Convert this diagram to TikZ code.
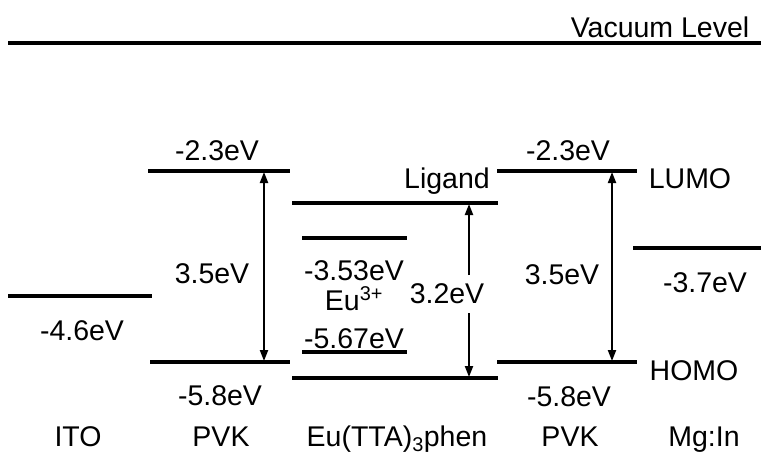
\documentclass[tikz,border=0pt]{standalone}
\usepackage{fontspec}
\setmainfont{Liberation Sans}
\usetikzlibrary{arrows.meta}

\begin{document}
\begin{tikzpicture}[x=1pt,y=-1pt,
    level/.style={line width=3.2pt},
    gap/.style={line width=2pt, {Triangle[length=11pt,width=8pt]}-{Triangle[length=11pt,width=8pt]}},
    halfgap/.style={line width=2pt, -{Triangle[length=11pt,width=8pt]}},
    lbl/.style={anchor=base, inner sep=0pt, font=\fontsize{28.5}{30}\selectfont}]
  \useasboundingbox (0,0) rectangle (761,459);

  % energy levels (end points)
  \coordinate (vacL) at (8,43);    \coordinate (vacR) at (761,43);
  \coordinate (itoL) at (8,296);   \coordinate (itoR) at (152,296);
  \coordinate (pvkaLuL) at (148,171); \coordinate (pvkaLuR) at (290,171);
  \coordinate (pvkaHoL) at (150,362); \coordinate (pvkaHoR) at (290,362);
  \coordinate (ligL) at (292,203); \coordinate (ligR) at (498,203);
  \coordinate (euaL) at (302,238); \coordinate (euaR) at (407,238);
  \coordinate (eubL) at (302,352); \coordinate (eubR) at (407,352);
  \coordinate (euHoL) at (292,378); \coordinate (euHoR) at (498,378);
  \coordinate (pvkbLuL) at (497,171); \coordinate (pvkbLuR) at (637,171);
  \coordinate (pvkbHoL) at (497,362); \coordinate (pvkbHoR) at (637,362);
  \coordinate (mgL) at (633,248);  \coordinate (mgR) at (761,248);

  \foreach \a/\b in {vacL/vacR, itoL/itoR, pvkaLuL/pvkaLuR, pvkaHoL/pvkaHoR,
                     ligL/ligR, euaL/euaR, eubL/eubR, euHoL/euHoR,
                     pvkbLuL/pvkbLuR, pvkbHoL/pvkbHoR, mgL/mgR}
    \draw[level] (\a) -- (\b);

  % band-gap arrows
  \coordinate (gapaTop) at (264,172); \coordinate (gapaBot) at (264,361);
  \draw[gap] (gapaTop) -- (gapaBot);
  \coordinate (gapbTop) at (469,204); \coordinate (gapbBot) at (469,377);
  \coordinate (gapbMidT) at (469,275); \coordinate (gapbMidB) at (469,313);
  \draw[halfgap] (gapbMidT) -- (gapbTop);
  \draw[halfgap] (gapbMidB) -- (gapbBot);
  \coordinate (gapcTop) at (612,172); \coordinate (gapcBot) at (612,361);
  \draw[gap] (gapcTop) -- (gapcBot);

  % labels
  \node[lbl] (tvac) at (660,37) {Vacuum Level};
  \node[lbl] (tito) at (82,340) {-4.6eV};
  \node[lbl] (tpaLu) at (217,160) {-2.3eV};
  \node[lbl] (tpaGap) at (212,283) {3.5eV};
  \node[lbl] (tpaHo) at (220,405) {-5.8eV};
  \node[lbl] (tlig) at (447,188) {Ligand};
  \node[lbl] (teua) at (354,280) {-3.53eV};
  \node[lbl] (teu) at (354,310) {Eu\textsuperscript{3+}};
  \node[lbl] (teub) at (354,348) {-5.67eV};
  \node[lbl] (tgapb) at (447,303) {3.2eV};
  \node[lbl] (tpbLu) at (568,160) {-2.3eV};
  \node[lbl] (tpbGap) at (562,284) {3.5eV};
  \node[lbl] (tpbHo) at (569,406) {-5.8eV};
  \node[lbl] (tlumo) at (690,188) {LUMO};
  \node[lbl] (thomo) at (694,380) {HOMO};
  \node[lbl] (tmg) at (705,292) {-3.7eV};

  % layer names
  \node[lbl] (nito) at (78,446) {ITO};
  \node[lbl] (npvka) at (221,446) {PVK};
  \node[lbl] (neu) at (397,446) {Eu(TTA)\textsubscript{3}phen};
  \node[lbl] (npvkb) at (570,446) {PVK};
  \node[lbl] (nmg) at (704,446) {Mg:In};
\end{tikzpicture}
\end{document}
